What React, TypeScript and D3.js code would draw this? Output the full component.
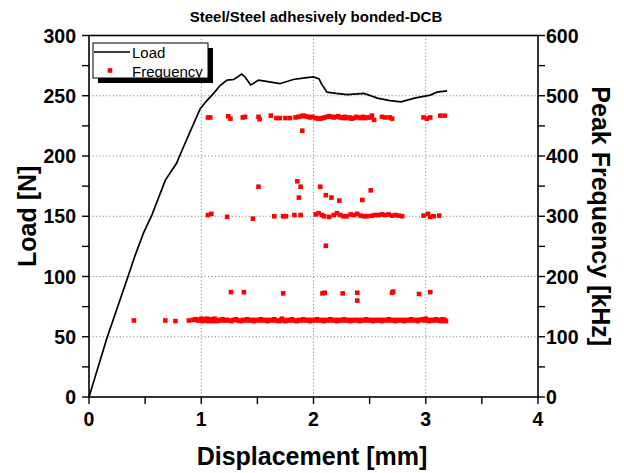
import React from "react";
import * as d3 from "d3";

// Load-displacement curve [mm, N]
const loadCurve: [number, number][] = [
  [0, 0], [0.16, 49], [0.34, 98], [0.405, 116], [0.485, 136], [0.56, 151],
  [0.68, 180], [0.78, 194], [0.83, 205], [0.9, 220], [0.99, 239], [1.05, 246],
  [1.11, 252], [1.17, 258.7], [1.23, 263], [1.29, 263.5], [1.36, 268], [1.39, 265.6],
  [1.44, 259], [1.46, 260], [1.51, 263], [1.58, 262], [1.7, 260], [1.82, 263.5],
  [1.94, 265], [2.0, 265.6], [2.05, 264], [2.07, 260], [2.12, 253], [2.2, 252],
  [2.3, 251], [2.45, 252], [2.57, 248], [2.68, 246], [2.78, 245], [2.9, 248],
  [3.04, 250.5], [3.1, 253], [3.19, 254],
];

// Peak frequency of acoustic events [mm, kHz], grouped by band
const freqLowBand: [number, number][] = [
  [0.4, 127], [0.68, 127], [0.77, 126], [0.89, 127], [0.93, 128], [0.95, 129],
  [0.97, 127], [0.99, 128], [1.0, 130], [1.01, 126], [1.02, 128], [1.03, 129],
  [1.04, 127], [1.05, 130], [1.06, 126], [1.07, 128], [1.08, 127], [1.09, 129],
  [1.1, 126], [1.11, 128], [1.12, 130], [1.13, 127], [1.14, 126], [1.15, 128],
  [1.17, 127], [1.19, 129], [1.21, 127], [1.23, 128], [1.25, 127], [1.27, 126],
  [1.29, 128], [1.31, 129], [1.33, 127], [1.35, 126], [1.37, 128], [1.39, 127],
  [1.41, 129], [1.43, 127], [1.45, 128], [1.47, 126], [1.49, 128], [1.51, 127],
  [1.53, 129], [1.55, 127], [1.57, 128], [1.59, 126], [1.61, 128], [1.63, 127],
  [1.65, 129], [1.67, 127], [1.69, 126], [1.71, 128], [1.72, 130], [1.73, 127],
  [1.75, 126], [1.77, 128], [1.79, 127], [1.81, 129], [1.83, 127], [1.85, 126],
  [1.87, 128], [1.89, 127], [1.91, 129], [1.93, 127], [1.95, 128], [1.97, 126],
  [1.99, 128], [2.01, 127], [2.03, 129], [2.05, 127], [2.07, 128], [2.09, 126],
  [2.11, 128], [2.13, 127], [2.15, 129], [2.17, 127], [2.19, 128], [2.21, 126],
  [2.23, 128], [2.25, 127], [2.27, 129], [2.29, 127], [2.31, 128], [2.33, 126],
  [2.35, 128], [2.37, 127], [2.39, 128], [2.41, 126], [2.43, 128], [2.45, 127],
  [2.47, 129], [2.49, 127], [2.51, 128], [2.53, 126], [2.55, 128], [2.57, 127],
  [2.59, 128], [2.61, 126], [2.63, 128], [2.65, 127], [2.67, 129], [2.69, 127],
  [2.71, 128], [2.73, 126], [2.75, 128], [2.77, 127], [2.79, 128], [2.81, 126],
  [2.83, 128], [2.85, 127], [2.87, 129], [2.89, 127], [2.91, 128], [2.93, 126],
  [2.95, 128], [2.97, 129], [2.99, 127], [3.0, 130], [3.01, 128], [3.03, 126],
  [3.05, 128], [3.07, 127], [3.09, 129], [3.11, 127], [3.13, 128], [3.14, 126],
  [3.15, 129], [3.16, 127], [3.17, 128], [3.18, 126],
];

const freqSecondBand: [number, number][] = [
  [1.265, 174], [1.38, 174], [1.73, 172], [2.08, 172], [2.1, 173], [2.26, 172],
  [2.39, 173], [2.39, 160], [2.7, 173], [2.71, 175], [2.94, 171], [3.04, 174],
];

const freqMidBand: [number, number][] = [
  [1.06, 302], [1.09, 304], [1.23, 299], [1.46, 296], [1.51, 349], [1.65, 300],
  [1.73, 300], [1.755, 300], [1.83, 302], [1.856, 358], [1.885, 349], [1.87, 331],
  [1.885, 302], [2.02, 303], [2.045, 305], [2.06, 349], [2.075, 302], [2.095, 300],
  [2.11, 335], [2.11, 251], [2.14, 299], [2.16, 331], [2.18, 302], [2.21, 305],
  [2.23, 326], [2.24, 302], [2.265, 300], [2.295, 300], [2.33, 303], [2.36, 302],
  [2.39, 304], [2.42, 301], [2.435, 327], [2.45, 300], [2.48, 300], [2.51, 343],
  [2.52, 301], [2.55, 302], [2.58, 302], [2.61, 303], [2.64, 302], [2.67, 303],
  [2.7, 301], [2.73, 302], [2.76, 301], [2.79, 300], [2.98, 301], [3.02, 304],
  [3.04, 299], [3.07, 300], [3.12, 301],
];

const freqHighBand: [number, number][] = [
  [1.06, 464], [1.08, 464], [1.24, 466], [1.26, 462], [1.37, 464], [1.39, 465],
  [1.51, 465], [1.52, 461], [1.62, 467], [1.67, 463], [1.7, 463], [1.75, 463],
  [1.79, 463], [1.84, 464], [1.865, 465], [1.89, 466], [1.9, 442], [1.91, 467],
  [1.93, 466], [1.95, 465], [1.97, 464], [1.99, 465], [2.02, 463], [2.04, 462],
  [2.06, 462], [2.08, 463], [2.1, 464], [2.12, 465], [2.14, 466], [2.16, 465],
  [2.18, 464], [2.2, 465], [2.22, 466], [2.24, 464], [2.26, 463], [2.28, 465],
  [2.3, 463], [2.32, 464], [2.34, 462], [2.36, 463], [2.38, 465], [2.4, 464],
  [2.42, 463], [2.44, 465], [2.46, 463], [2.48, 464], [2.5, 464], [2.52, 467],
  [2.54, 460], [2.61, 465], [2.64, 464], [2.68, 464], [2.7, 462], [2.98, 464],
  [3.01, 462], [3.04, 464], [3.13, 467], [3.17, 467],
];

const xTicks = [0, 1, 2, 3, 4];
const xMinorTicks = [0.5, 1.5, 2.5, 3.5];
const loadTicks = [0, 50, 100, 150, 200, 250, 300];
const loadMinorTicks = [25, 75, 125, 175, 225, 275];
const freqTicks = [0, 100, 200, 300, 400, 500, 600];
const freqMinorTicks = [50, 150, 250, 350, 450, 550];

const W = 624;
const H = 473;
const FONT = "'Liberation Sans', Arial, sans-serif";

export default function App() {
  const x = d3.scaleLinear().domain([0, 4]).range([89, 538]);
  const yL = d3.scaleLinear().domain([0, 300]).range([397, 35.5]);
  const yR = d3.scaleLinear().domain([0, 600]).range([397, 35.5]);
  const [x0, x1] = x.range();
  const [yb, yt] = yL.range();

  const line = d3
    .line<[number, number]>()
    .x((d) => x(d[0]))
    .y((d) => yL(d[1]));

  const allFreq = [...freqLowBand, ...freqSecondBand, ...freqMidBand, ...freqHighBand];
  const m = 4.6;
  const tick = 7;

  return (
    <svg
      width={W}
      height={H}
      style={{ position: "absolute", left: 0, top: 0, background: "#fff" }}
      fontFamily={FONT}
    >
      <rect x={0} y={0} width={W} height={H} fill="#fff" />

      <text x={316} y={22} textAnchor="middle" fontSize={15} fontWeight="bold">
        Steel/Steel adhesively bonded-DCB
      </text>

      {/* grid */}
      <g stroke="#8a8a8a" strokeWidth={1} strokeDasharray="1.2,2.2">
        {xTicks.slice(1, -1).map((t) => (
          <line key={"gx" + t} x1={x(t)} x2={x(t)} y1={yb} y2={yt} />
        ))}
        {loadTicks.slice(1, -1).map((t) => (
          <line key={"gy" + t} x1={x0} x2={x1} y1={yL(t)} y2={yL(t)} />
        ))}
      </g>

      {/* frequency scatter */}
      <g fill="#ff0000">
        {allFreq.map((d, i) => (
          <rect key={i} x={x(d[0]) - m / 2} y={yR(d[1]) - m / 2} width={m} height={m} />
        ))}
      </g>

      {/* load curve */}
      <path d={line(loadCurve) ?? ""} fill="none" stroke="#000" strokeWidth={1.7} />

      {/* frame */}
      <rect x={x0} y={yt} width={x1 - x0} height={yb - yt} fill="none" stroke="#000" strokeWidth={1.6} />

      {/* ticks */}
      <g stroke="#000" strokeWidth={1.4}>
        {[...xTicks, ...xMinorTicks].map((t) => (
          <line key={"tx" + t} x1={x(t)} x2={x(t)} y1={yb} y2={yb + tick} />
        ))}
        {[...loadTicks, ...loadMinorTicks].map((t) => (
          <line key={"tl" + t} x1={x0 - tick} x2={x0} y1={yL(t)} y2={yL(t)} />
        ))}
        {[...freqTicks, ...freqMinorTicks].map((t) => (
          <line key={"tr" + t} x1={x1} x2={x1 + tick} y1={yR(t)} y2={yR(t)} />
        ))}
      </g>

      {/* tick labels */}
      <g fontSize={19.5} fontWeight="bold">
        {xTicks.map((t) => (
          <text key={"lx" + t} x={x(t)} y={yb + 29} textAnchor="middle">
            {t}
          </text>
        ))}
        {loadTicks.map((t) => (
          <text key={"ll" + t} x={x0 - 13} y={yL(t) + 7} textAnchor="end">
            {t}
          </text>
        ))}
        {freqTicks.map((t) => (
          <text key={"lr" + t} x={x1 + 8} y={yR(t) + 7} textAnchor="start">
            {t}
          </text>
        ))}
      </g>

      {/* axis titles */}
      <g fontSize={25} fontWeight="bold">
        <text x={312} y={465} textAnchor="middle">
          Displacement [mm]
        </text>
        <text transform={`translate(36,${(yb + yt) / 2}) rotate(-90)`} textAnchor="middle">
          Load [N]
        </text>
        <text transform={`translate(592,${(yb + yt) / 2}) rotate(90)`} textAnchor="middle">
          Peak Frequency [kHz]
        </text>
      </g>

      {/* legend */}
      <g>
        <rect x={98} y={48} width={115} height={35} fill="#000" />
        <rect x={93} y={43} width={115} height={35} fill="#fff" stroke="#000" strokeWidth={1} />
        <line x1={94} x2={130} y1={52} y2={52} stroke="#000" strokeWidth={1.7} />
        <text x={132} y={57.5} fontSize={15}>
          Load
        </text>
        <rect x={110 - m / 2} y={70.5 - m / 2} width={m} height={m} fill="#ff0000" />
        <text x={132} y={76.5} fontSize={15}>
          Frequency
        </text>
      </g>
    </svg>
  );
}
